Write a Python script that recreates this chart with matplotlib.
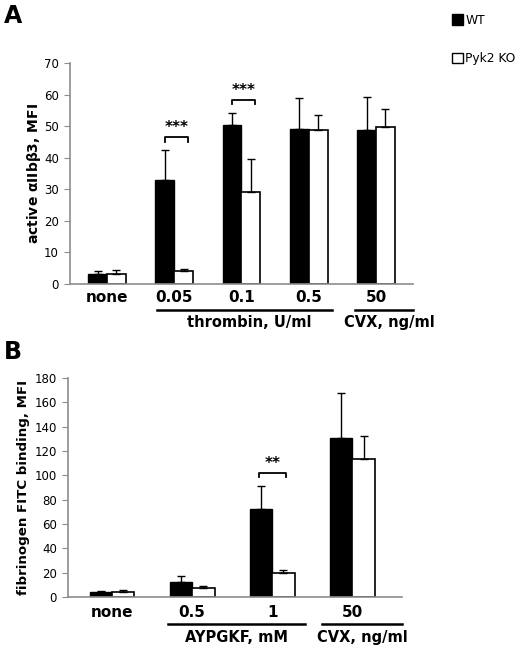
import numpy as np
import matplotlib
matplotlib.use('Agg')
import matplotlib.pyplot as plt
import matplotlib.transforms as mtransforms
from matplotlib.patches import Patch

plt.rcParams['font.family'] = ['DejaVu Sans']

# ── Data ─────────────────────────────────────────────────────────────────────
a_labels = ['none', '0.05', '0.1', '0.5', '50']
a_wt = [3.2, 32.9, 50.3, 49.2, 48.8]
a_wt_err = [0.9, 9.5, 3.8, 9.6, 10.3]
a_ko = [3.2, 4.0, 29.2, 48.7, 49.7]
a_ko_err = [1.2, 0.9, 10.4, 4.7, 5.8]

b_labels = ['none', '0.5', '1', '50']
b_wt = [4.1, 12.1, 72.5, 131.0]
b_wt_err = [0.6, 4.9, 18.5, 36.6]
b_ko = [3.8, 7.1, 19.5, 113.8]
b_ko_err = [1.7, 1.7, 2.8, 18.9]

GRAY = '#8c8c8c'
W = 0.28


def draw_panel(ax, labels, wt, wt_err, ko, ko_err, ymax, ystep, ylabel,
               lsize, lpad):
    x = np.arange(len(labels))
    ax.bar(x - W / 2, wt, W, color='black', edgecolor='black', linewidth=1,
           yerr=[np.zeros(len(wt)), wt_err], capsize=3,
           error_kw=dict(ecolor='black', elinewidth=1, capthick=1))
    ax.bar(x + W / 2, ko, W, color='white', edgecolor='black', linewidth=1.2,
           yerr=[np.zeros(len(ko)), ko_err], capsize=3,
           error_kw=dict(ecolor='black', elinewidth=1, capthick=1))
    ax.set_ylim(0, ymax)
    ax.set_yticks(np.arange(0, ymax + 1, ystep))
    ax.set_xticks([])
    for s in ['top', 'right']:
        ax.spines[s].set_visible(False)
    for s in ['left', 'bottom']:
        ax.spines[s].set_color(GRAY)
        ax.spines[s].set_linewidth(1.2)
    ax.tick_params(axis='y', direction='out', length=4, color=GRAY,
                   labelsize=8.5, pad=4)
    ax.set_ylabel(ylabel, fontsize=lsize, fontweight='bold', labelpad=lpad)
    return x


def sig(ax, xc, y, stars, dy, half=0.17):
    ax.plot([xc - half, xc - half, xc + half, xc + half],
            [y - dy, y, y, y - dy], color='black', lw=1.3)
    ax.text(xc, y + dy * 0.4, stars, ha='center', va='bottom',
            fontsize=11, fontweight='bold')


def group_line(ax, x0, x1, yl, yt, text, xt=None):
    tr = mtransforms.blended_transform_factory(ax.transData, ax.transAxes)
    ax.plot([x0, x1], [yl, yl], color='black', lw=1.8, transform=tr,
            clip_on=False)
    ax.text((x0 + x1) / 2 if xt is None else xt, yt, text, transform=tr,
            ha='center', va='center', fontsize=10.5, fontweight='bold')


fig = plt.figure(figsize=(5.2, 6.52), dpi=100)

# ── Panel A ──────────────────────────────────────────────────────────────────
axA = fig.add_axes([0.1346, 0.5644, 0.6596, 0.339])
xa = draw_panel(axA, a_labels, a_wt, a_wt_err, a_ko, a_ko_err, 70, 10,
                r'active $\mathbf{\alpha}$IIb$\mathbf{\beta}$3, MFI', 10, 1)
axA.set_xlim(-0.55, 4.55)
trA = mtransforms.blended_transform_factory(axA.transData, axA.transAxes)
for xi, lab in zip(xa, a_labels):
    axA.text(xi, -0.063, lab, transform=trA, ha='center', va='center',
             fontsize=11, fontweight='bold')
group_line(axA, 0.75, 3.34, -0.118, -0.176, 'thrombin, U/ml', xt=2.12)
group_line(axA, 3.69, 4.55, -0.118, -0.176, 'CVX, ng/ml', xt=4.2)
sig(axA, 1.03, 46.5, '***', 1.4)
sig(axA, 2.03, 58.3, '***', 1.4)

leg = fig.legend(handles=[Patch(facecolor='black', edgecolor='black', label='WT'),
                          Patch(facecolor='white', edgecolor='black', label='Pyk2 KO')],
                 loc='upper left', bbox_to_anchor=(0.869, 0.979), frameon=False,
                 fontsize=8.8, handlelength=0.9, handleheight=0.9,
                 handletextpad=0.2, labelspacing=2.1, borderpad=0,
                 borderaxespad=0)

fig.text(0.008, 0.975, 'A', fontsize=17, fontweight='bold', va='center')

# ── Panel B ──────────────────────────────────────────────────────────────────
axB = fig.add_axes([0.1308, 0.0844, 0.6423, 0.3358])
xb = draw_panel(axB, b_labels, b_wt, b_wt_err, b_ko, b_ko_err, 180, 20,
                'fibrinogen FITC binding, MFI', 9.6, 3)
axB.set_xlim(-0.55, 3.62)
trB = mtransforms.blended_transform_factory(axB.transData, axB.transAxes)
for xi, lab in zip(xb, b_labels):
    axB.text(xi, -0.073, lab, transform=trB, ha='center', va='center',
             fontsize=11, fontweight='bold')
group_line(axB, 0.7, 2.41, -0.123, -0.183, 'AYPGKF, mM')
group_line(axB, 2.62, 3.62, -0.123, -0.183, 'CVX, ng/ml')
sig(axB, 2.0, 102, '**', 3.5)

fig.text(0.008, 0.46, 'B', fontsize=17, fontweight='bold', va='center')

fig.savefig('out.png', dpi=100)
